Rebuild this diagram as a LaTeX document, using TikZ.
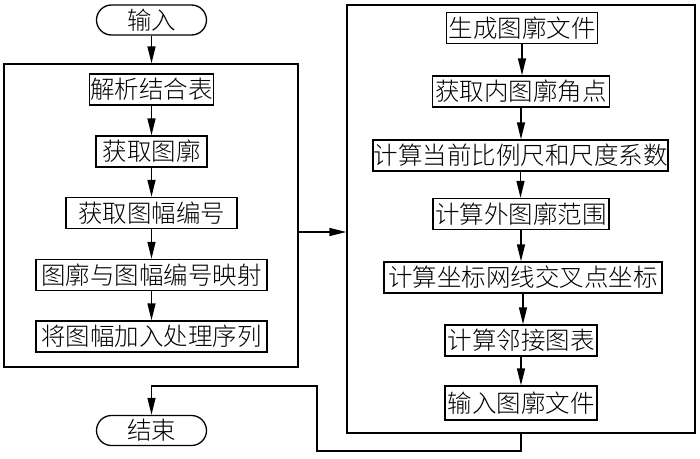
\documentclass[tikz,border=0pt]{standalone}
\usepackage{fontspec}
\newfontfamily\cjk{Noto Sans CJK SC}[UprightFont={* Light}]
\usetikzlibrary{arrows.meta,shapes.misc,calc}
\begin{document}
\begin{tikzpicture}[x=1pt,y=-1pt,
  cjkf/.style={font=\cjk\fontsize{24.5}{25}\selectfont, text height=21.5pt, text depth=3pt},
  proc/.style={draw, line width=1.3pt, cjkf, inner sep=0pt, minimum height=31pt},
  term/.style={draw, rounded rectangle, line width=1.3pt, cjkf, inner sep=0pt, minimum width=110pt, minimum height=30pt},
  frm/.style={draw, line width=1.3pt, inner sep=0pt},
  arr/.style={-{Triangle[length=17pt,width=8pt]}, line width=1.3pt}]
\useasboundingbox (0,0) rectangle (700,458);
% frames
\node[frm, minimum width=294pt, minimum height=303pt] (L) at (151,215.5) {};
\node[frm, minimum width=348pt, minimum height=428pt] (R) at (521,219) {};
% terminals
\node[term] (I) at (151.5,20) {输入};
\node[term] (E) at (151.5,430.5) {结束};
% left column
\node[proc, minimum width=124pt] (a1) at (151.5,89.5) {解析结合表};
\node[proc, minimum width=111pt] (a2) at (151.5,151.5) {获取图廓};
\node[proc, minimum width=171pt] (a3) at (151.5,213) {获取图幅编号};
\node[proc, minimum width=231pt] (a4) at (151.5,275) {图廓与图幅编号映射};
\node[proc, minimum width=231pt] (a5) at (151.5,336.5) {将图幅加入处理序列};
% right column
\node[proc, minimum width=151pt] (b1) at (522,28) {生成图廓文件};
\node[proc, minimum width=177pt] (b2) at (521,91.5) {获取内图廓角点};
\node[proc, minimum width=295pt] (b3) at (520.5,155.5) {计算当前比例尺和尺度系数};
\node[proc, minimum width=176pt] (b4) at (521,214) {计算外图廓范围};
\node[proc, minimum width=278pt] (b5) at (523,277.5) {计算坐标网线交叉点坐标};
\node[proc, minimum width=152pt] (b6) at (521,340.5) {计算邻接图表};
\node[proc, minimum width=152pt, minimum height=34pt] (b7) at (521,403) {输入图廓文件};
% arrows
\draw[arr] (I.south) -- (I.south |- L.north);
\draw[arr] (a1) -- (a2);
\draw[arr] (a2) -- (a3);
\draw[arr] (a3) -- (a4);
\draw[arr] (a4) -- (a5);
\draw[arr] (b1.south) -- (b1.south |- b2.north);
\draw[arr] (b2.south) -- (b2.south |- b3.north);
\draw[arr] (b3.south) -- (b3.south |- b4.north);
\draw[arr] (b4.south) -- (b4.south |- b5.north);
\draw[arr] (b5.south) -- (b5.south |- b6.north);
\draw[arr] (b6.south) -- (b6.south |- b7.north);
\coordinate (m) at ([yshift=-16.5pt]L.east);
\draw[arr] (m) -- (m -| R.west);
\coordinate (j1) at (317,451);
\coordinate (j2) at (317,386);
\draw[arr] (R.south) |- (j1) -- (j2) -| (E.north);
\end{tikzpicture}
\end{document}
